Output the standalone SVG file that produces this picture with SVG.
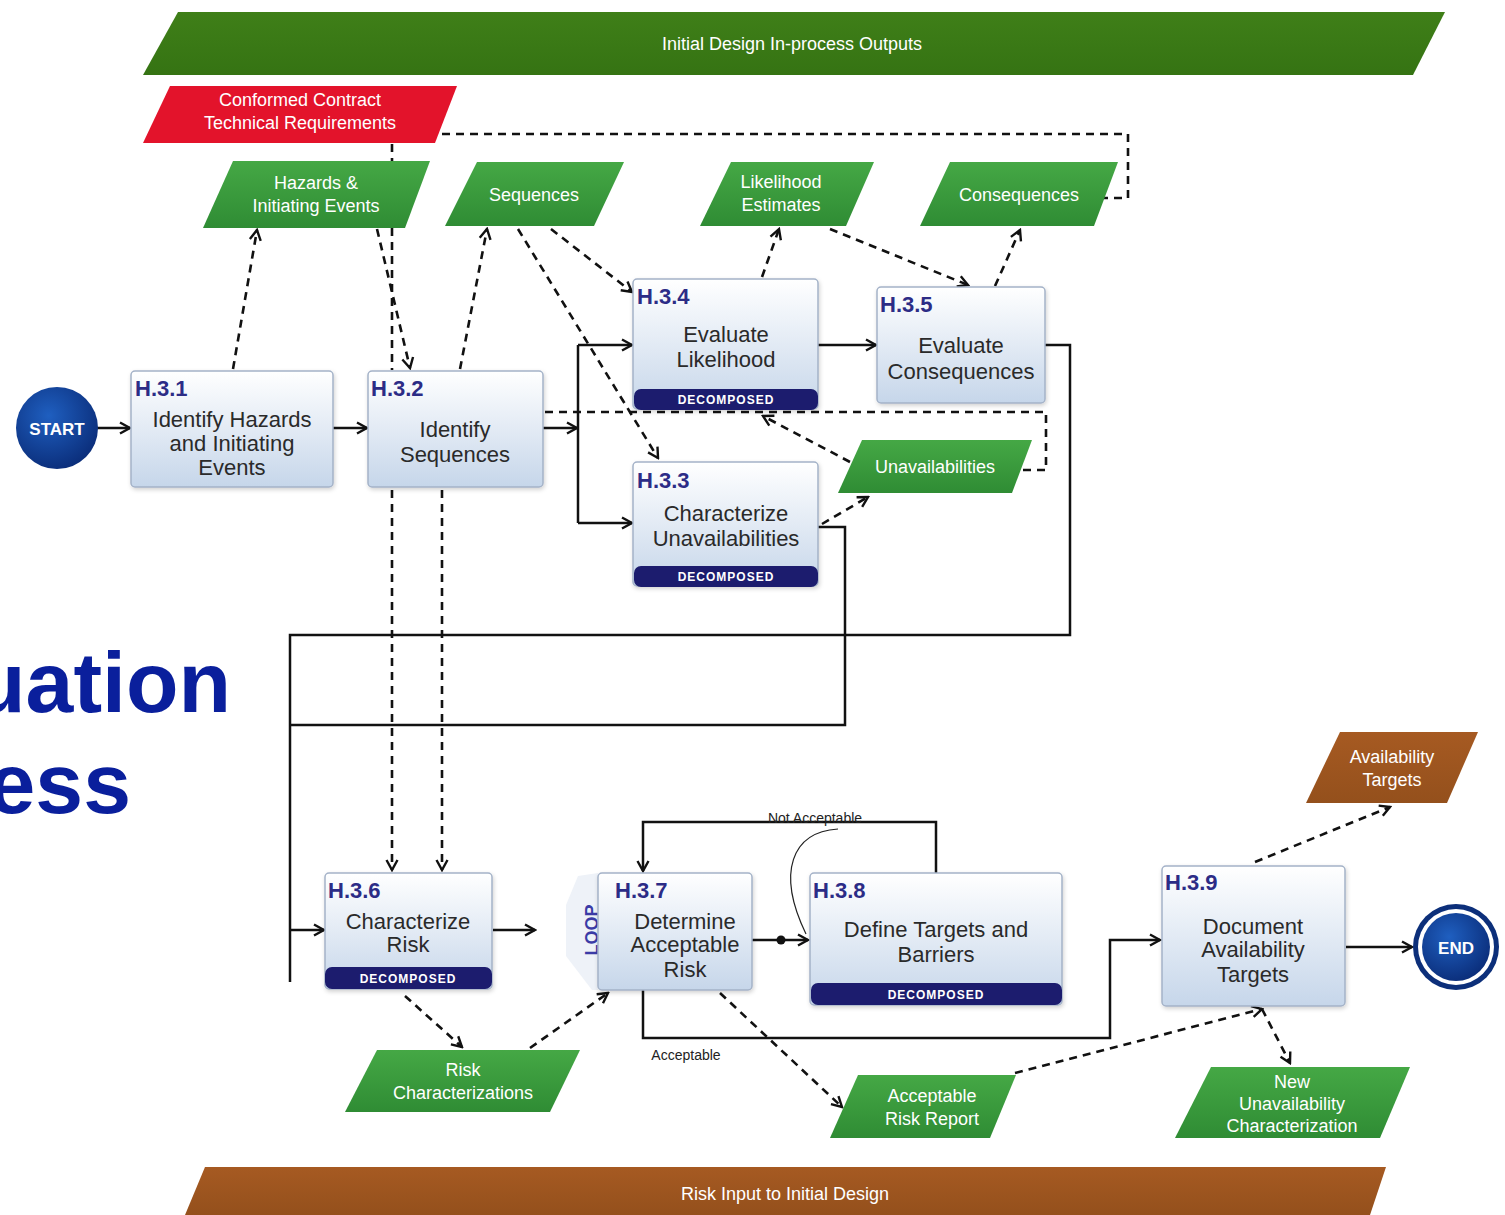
<svg xmlns="http://www.w3.org/2000/svg" width="1505" height="1215" viewBox="0 0 1505 1215">
  <defs>
    <linearGradient id="nodeFill" x1="0" y1="0" x2="0" y2="1">
      <stop offset="0" stop-color="#ffffff"/>
      <stop offset="1" stop-color="#c6d6ea"/>
    </linearGradient>
    <linearGradient id="greenFill" x1="0" y1="0" x2="0" y2="1">
      <stop offset="0" stop-color="#45a845"/>
      <stop offset="1" stop-color="#2f8c34"/>
    </linearGradient>
    <linearGradient id="bannerGreen" x1="0" y1="0" x2="0" y2="1">
      <stop offset="0" stop-color="#3f7f18"/>
      <stop offset="1" stop-color="#357313"/>
    </linearGradient>
    <linearGradient id="brownFill" x1="0" y1="0" x2="0" y2="1">
      <stop offset="0" stop-color="#a65a22"/>
      <stop offset="1" stop-color="#94501c"/>
    </linearGradient>
    <radialGradient id="blueBall" cx="0.4" cy="0.35" r="0.7">
      <stop offset="0" stop-color="#1f5fc0"/>
      <stop offset="1" stop-color="#0a2c78"/>
    </radialGradient>
    <filter id="shadow" x="-10%" y="-10%" width="120%" height="130%">
      <feDropShadow dx="1" dy="2" stdDeviation="2" flood-color="#000" flood-opacity="0.18"/>
    </filter>
    <marker id="arr" viewBox="0 0 14 14" refX="12" refY="7" markerWidth="14" markerHeight="14" markerUnits="userSpaceOnUse" orient="auto">
      <path d="M2,1.5 L12,7 L2,12.5" fill="none" stroke="#111" stroke-width="2.4"/>
    </marker>
  </defs>
  <style>
    text { font-family: "Liberation Sans", Arial, sans-serif; }
    .box { fill: url(#nodeFill); stroke: #a4b2c8; stroke-width: 1.5; filter: url(#shadow); }
    .id { font-size: 22px; font-weight: bold; fill: #2c2c86; }
    .body { font-size: 22px; fill: #2a2a2a; text-anchor: middle; }
    .bar { fill: #1c1c6e; }
    .barText { font-size: 12px; font-weight: bold; fill: #ffffff; text-anchor: middle; letter-spacing: 1px; }
    .data { fill: url(#greenFill); }
    .dataText { font-size: 18px; fill: #ffffff; text-anchor: middle; }
    .solid { fill: none; stroke: #111; stroke-width: 2.5; }
    .dash { fill: none; stroke: #111; stroke-width: 2.6; stroke-dasharray: 8 6; }
    .small { font-size: 14px; fill: #222; text-anchor: middle; }
  </style>

  <rect width="1505" height="1215" fill="#ffffff"/>

  <!-- banners -->
  <g id="banner-top">
    <polygon points="178,12 1445,12 1413,75 143,75" fill="url(#bannerGreen)"/>
    <text x="792" y="50" class="dataText" font-size="19">Initial Design In-process Outputs</text>
  </g>
  <g id="banner-bottom">
    <polygon points="205,1167 1386,1167 1370,1215 185,1215" fill="url(#brownFill)"/>
    <text x="785" y="1200" class="dataText" font-size="19">Risk Input to Initial Design</text>
  </g>

  <!-- slide title, running off the left edge -->
  <g id="title">
    <text x="231" y="712" font-size="86" font-weight="bold" fill="#0a1f9c" text-anchor="end">uation</text>
    <text x="131" y="813" font-size="86" font-weight="bold" fill="#0a1f9c" text-anchor="end">ess</text>
  </g>

  <!-- connectors -->
  <g id="connectors">
    <!-- solid control flow -->
    <line x1="97" y1="428" x2="130" y2="428" class="solid" marker-end="url(#arr)"/>
    <line x1="333" y1="428" x2="367" y2="428" class="solid" marker-end="url(#arr)"/>
    <line x1="543" y1="428" x2="577" y2="428" class="solid" marker-end="url(#arr)"/>
    <polyline points="578,345 578,523" class="solid"/>
    <line x1="578" y1="345" x2="632" y2="345" class="solid" marker-end="url(#arr)"/>
    <line x1="578" y1="523" x2="632" y2="523" class="solid" marker-end="url(#arr)"/>
    <line x1="818" y1="345" x2="876" y2="345" class="solid" marker-end="url(#arr)"/>
    <polyline points="1045,345 1070,345 1070,635 290,635 290,982" class="solid"/>
    <polyline points="818,527 845,527 845,725 290,725" class="solid"/>
    <line x1="290" y1="930" x2="324" y2="930" class="solid" marker-end="url(#arr)"/>
    <line x1="493" y1="930" x2="535" y2="930" class="solid" marker-end="url(#arr)"/>
    <line x1="752" y1="940" x2="808" y2="940" class="solid" marker-end="url(#arr)"/>
    <circle cx="781" cy="940" r="4.5" fill="#111"/>
    <polyline points="936,873 936,822 643,822 643,871" class="solid" marker-end="url(#arr)"/>
    <path d="M838,829 C792,832 776,872 806,934" fill="none" stroke="#222" stroke-width="1.2"/>
    <polyline points="643,990 643,1038 1110,1038 1110,940 1160,940" class="solid" marker-end="url(#arr)"/>
    <line x1="1346" y1="947" x2="1412" y2="947" class="solid" marker-end="url(#arr)"/>

    <!-- dashed data flow -->
    <line x1="233" y1="369" x2="257" y2="230" class="dash" marker-end="url(#arr)"/>
    <line x1="377" y1="229" x2="410" y2="368" class="dash" marker-end="url(#arr)"/>
    <line x1="392" y1="144" x2="392" y2="370" class="dash"/>
    <line x1="460" y1="369" x2="487" y2="229" class="dash" marker-end="url(#arr)"/>
    <line x1="518" y1="229" x2="658" y2="458" class="dash" marker-end="url(#arr)"/>
    <line x1="551" y1="229" x2="632" y2="292" class="dash" marker-end="url(#arr)"/>
    <line x1="392" y1="490" x2="392" y2="870" class="dash" marker-end="url(#arr)"/>
    <line x1="442" y1="490" x2="442" y2="870" class="dash" marker-end="url(#arr)"/>
    <line x1="762" y1="277" x2="779" y2="229" class="dash" marker-end="url(#arr)"/>
    <line x1="830" y1="229" x2="968" y2="285" class="dash" marker-end="url(#arr)"/>
    <line x1="995" y1="286" x2="1020" y2="230" class="dash" marker-end="url(#arr)"/>
    <polyline points="1100,198 1128,198 1128,134 440,134" class="dash"/>
    <polyline points="545,412 1046,412 1046,470 1020,470" class="dash"/>
    <line x1="850" y1="462" x2="763" y2="416" class="dash" marker-end="url(#arr)"/>
    <line x1="822" y1="524" x2="868" y2="497" class="dash" marker-end="url(#arr)"/>
    <line x1="405" y1="996" x2="462" y2="1047" class="dash" marker-end="url(#arr)"/>
    <line x1="530" y1="1048" x2="608" y2="993" class="dash" marker-end="url(#arr)"/>
    <line x1="720" y1="993" x2="842" y2="1107" class="dash" marker-end="url(#arr)"/>
    <line x1="1015" y1="1073" x2="1262" y2="1009" class="dash" marker-end="url(#arr)"/>
    <line x1="1262" y1="1009" x2="1290" y2="1063" class="dash" marker-end="url(#arr)"/>
    <line x1="1255" y1="862" x2="1390" y2="807" class="dash" marker-end="url(#arr)"/>

    <text x="815" y="823" class="small">Not Acceptable</text>
    <text x="686" y="1060" class="small">Acceptable</text>
  </g>

  <!-- terminals -->
  <g id="start">
    <circle cx="57" cy="428" r="41" fill="url(#blueBall)"/>
    <text x="57" y="435" font-size="17" font-weight="bold" fill="#ffffff" text-anchor="middle">START</text>
  </g>
  <g id="end">
    <circle cx="1456" cy="947" r="43" fill="#0c2f7a"/>
    <circle cx="1456" cy="947" r="38" fill="#ffffff"/>
    <circle cx="1456" cy="947" r="34" fill="url(#blueBall)"/>
    <text x="1456" y="954" font-size="17" font-weight="bold" fill="#ffffff" text-anchor="middle">END</text>
  </g>

  <!-- inputs / outputs -->
  <g id="conformed-contract">
    <polygon points="170,86 457,86 435,143 143,143" fill="#e3132b"/>
    <text x="300" y="106" class="dataText" font-size="20">Conformed Contract</text>
    <text x="300" y="129" class="dataText" font-size="20">Technical Requirements</text>
  </g>
  <g id="hazards">
    <polygon points="233,161 430,161 405,228 203,228" class="data"/>
    <text x="316" y="189" class="dataText">Hazards &amp;</text>
    <text x="316" y="212" class="dataText">Initiating Events</text>
  </g>
  <g id="sequences">
    <polygon points="477,162 624,162 594,226 445,226" class="data"/>
    <text x="534" y="201" class="dataText">Sequences</text>
  </g>
  <g id="likelihood-estimates">
    <polygon points="731,162 874,162 846,226 700,226" class="data"/>
    <text x="781" y="188" class="dataText">Likelihood</text>
    <text x="781" y="211" class="dataText">Estimates</text>
  </g>
  <g id="consequences">
    <polygon points="950,162 1118,162 1094,226 920,226" class="data"/>
    <text x="1019" y="201" class="dataText">Consequences</text>
  </g>
  <g id="unavailabilities">
    <polygon points="862,440 1032,440 1012,493 838,493" class="data"/>
    <text x="935" y="473" class="dataText">Unavailabilities</text>
  </g>
  <g id="availability-targets">
    <polygon points="1340,732 1478,732 1447,803 1306,803" fill="url(#brownFill)"/>
    <text x="1392" y="763" class="dataText">Availability</text>
    <text x="1392" y="786" class="dataText">Targets</text>
  </g>
  <g id="risk-characterizations">
    <polygon points="377,1050 580,1050 550,1112 345,1112" class="data"/>
    <text x="463" y="1076" class="dataText">Risk</text>
    <text x="463" y="1099" class="dataText">Characterizations</text>
  </g>
  <g id="acceptable-risk-report">
    <polygon points="858,1075 1016,1075 990,1138 830,1138" class="data"/>
    <text x="932" y="1102" class="dataText">Acceptable</text>
    <text x="932" y="1125" class="dataText">Risk Report</text>
  </g>
  <g id="new-unavailability">
    <polygon points="1211,1067 1410,1067 1380,1138 1175,1138" class="data"/>
    <text x="1292" y="1088" class="dataText">New</text>
    <text x="1292" y="1110" class="dataText">Unavailability</text>
    <text x="1292" y="1132" class="dataText">Characterization</text>
  </g>

  <!-- process nodes -->
  <g id="h31">
    <rect x="131" y="371" width="202" height="116" rx="4" class="box"/>
    <text x="135" y="396" class="id">H.3.1</text>
    <text x="232" y="427" class="body">Identify Hazards</text>
    <text x="232" y="451" class="body">and Initiating</text>
    <text x="232" y="475" class="body">Events</text>
  </g>
  <g id="h32">
    <rect x="368" y="371" width="175" height="116" rx="4" class="box"/>
    <text x="371" y="396" class="id">H.3.2</text>
    <text x="455" y="437" class="body">Identify</text>
    <text x="455" y="462" class="body">Sequences</text>
  </g>
  <g id="h34">
    <rect x="633" y="279" width="185" height="130" rx="4" class="box"/>
    <text x="637" y="304" class="id">H.3.4</text>
    <text x="726" y="342" class="body">Evaluate</text>
    <text x="726" y="367" class="body">Likelihood</text>
    <rect x="634" y="389" width="184" height="21" rx="7" class="bar"/>
    <text x="726" y="404" class="barText">DECOMPOSED</text>
  </g>
  <g id="h35">
    <rect x="877" y="287" width="168" height="116" rx="4" class="box"/>
    <text x="880" y="312" class="id">H.3.5</text>
    <text x="961" y="353" class="body">Evaluate</text>
    <text x="961" y="379" class="body">Consequences</text>
  </g>
  <g id="h33">
    <rect x="633" y="462" width="185" height="124" rx="4" class="box"/>
    <text x="637" y="488" class="id">H.3.3</text>
    <text x="726" y="521" class="body">Characterize</text>
    <text x="726" y="546" class="body">Unavailabilities</text>
    <rect x="634" y="566" width="184" height="21" rx="7" class="bar"/>
    <text x="726" y="581" class="barText">DECOMPOSED</text>
  </g>
  <g id="h36">
    <rect x="325" y="873" width="167" height="116" rx="4" class="box"/>
    <text x="328" y="898" class="id">H.3.6</text>
    <text x="408" y="929" class="body">Characterize</text>
    <text x="408" y="952" class="body">Risk</text>
    <rect x="325" y="967" width="167" height="22" rx="7" class="bar"/>
    <text x="408" y="983" class="barText">DECOMPOSED</text>
  </g>
  <g id="h37">
    <polygon points="578,876 598,873 598,990 592,990 566,956 566,905" fill="#eef2f8"/>
    <text x="598" y="930" transform="rotate(-90 598 930)" font-size="18" font-weight="bold" fill="#3b3ba6" text-anchor="middle">LOOP</text>
    <rect x="598" y="873" width="154" height="117" rx="4" class="box"/>
    <text x="615" y="898" class="id">H.3.7</text>
    <text x="685" y="929" class="body">Determine</text>
    <text x="685" y="952" class="body">Acceptable</text>
    <text x="685" y="977" class="body">Risk</text>
  </g>
  <g id="h38">
    <rect x="810" y="873" width="252" height="132" rx="4" class="box"/>
    <text x="813" y="898" class="id">H.3.8</text>
    <text x="936" y="937" class="body">Define Targets and</text>
    <text x="936" y="962" class="body">Barriers</text>
    <rect x="811" y="983" width="251" height="22" rx="7" class="bar"/>
    <text x="936" y="999" class="barText">DECOMPOSED</text>
  </g>
  <g id="h39">
    <rect x="1162" y="866" width="183" height="140" rx="4" class="box"/>
    <text x="1165" y="890" class="id">H.3.9</text>
    <text x="1253" y="934" class="body">Document</text>
    <text x="1253" y="957" class="body">Availability</text>
    <text x="1253" y="982" class="body">Targets</text>
  </g>
</svg>
